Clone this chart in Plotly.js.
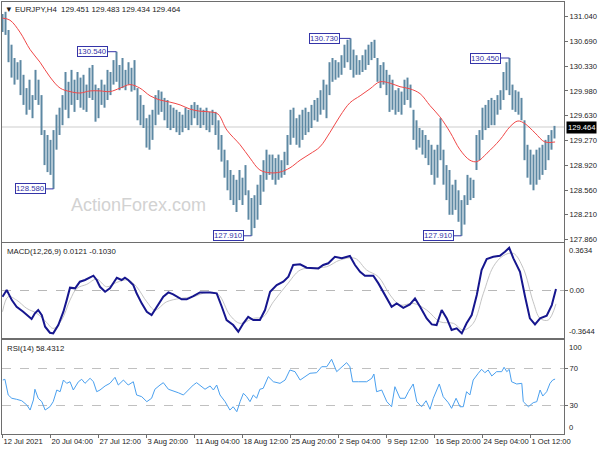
<!DOCTYPE html>
<html>
<head>
<meta charset="utf-8">
<script src="https://cdn.plot.ly/plotly-3.0.1.min.js"></script>
<style>html,body{margin:0;padding:0;background:#fff;}#chart{width:600px;height:450px;}</style>
</head>
<body>
<div id="chart"></div>
<script>
// ---- Price bars (EURJPY H4), one entry per drawn bar ----
const highs = [131.08,131.11,130.85,130.64,130.45,130.39,130.42,130.21,130.02,130.14,
129.92,130.28,130.14,129.92,129.42,129.35,129.28,129.42,129.64,129.74,
129.92,130.25,130.11,130.28,130.14,130.25,130.17,130.21,130.07,130.31,
130.35,130.07,130.02,130.14,130.07,130.28,130.25,130.42,130.54,130.35,
130.45,130.28,130.39,130.31,130.42,130.02,129.92,129.78,129.59,129.64,
129.71,129.92,129.99,129.97,129.88,129.85,129.78,129.74,129.71,129.68,
129.64,129.74,129.71,129.78,129.82,129.78,129.74,129.71,129.74,129.68,
129.71,129.68,129.56,129.35,129.14,128.99,128.85,128.78,128.71,128.85,
128.74,128.92,128.56,128.45,128.49,128.64,128.78,128.99,129.14,129.07,
129.07,129.02,129.07,128.99,129.11,129.35,129.71,129.74,129.59,129.64,
129.71,129.74,129.68,129.78,129.85,129.88,129.99,130.14,130.07,130.39,
130.45,130.42,130.39,130.49,130.64,130.71,130.73,130.57,130.49,130.42,
130.49,130.57,130.64,130.68,130.71,130.45,130.35,130.39,130.28,130.21,
130.14,129.99,130.02,129.97,130.14,130.17,130.07,129.71,129.56,129.45,
129.42,129.35,129.28,129.21,129.14,129.21,129.59,129.14,128.92,128.85,
128.64,128.71,128.56,128.42,128.49,128.78,128.74,128.71,129.35,129.42,
129.74,129.78,129.85,129.88,129.85,129.92,129.99,130.25,130.39,130.45,
130.07,129.99,129.97,129.88,129.56,129.21,129.14,129.07,129.14,129.17,
129.21,129.28,129.35,129.42,129.48];
const lows = [130.82,130.78,130.39,130.17,130.07,130.14,129.92,129.78,129.64,129.71,
129.59,129.85,129.78,129.35,128.92,128.82,128.78,128.58,129.14,129.35,
129.49,129.71,129.59,129.78,129.68,129.85,129.74,129.71,129.68,129.88,
129.85,129.54,129.59,129.78,129.74,129.85,129.92,130.07,130.11,129.99,
130.02,129.99,130.07,129.97,129.99,129.56,129.49,129.45,129.17,129.14,
129.28,129.49,129.64,129.68,129.56,129.45,129.42,129.45,129.39,129.35,
129.39,129.45,129.42,129.49,129.59,129.49,129.45,129.49,129.42,129.39,
129.49,129.35,129.14,128.97,128.74,128.56,128.42,128.35,128.25,128.42,
128.35,128.49,128.14,127.91,128.02,128.14,128.35,128.54,128.71,128.78,
128.71,128.64,128.71,128.74,128.78,128.92,129.21,129.31,129.21,129.17,
129.28,129.35,129.39,129.45,129.56,129.54,129.64,129.71,129.59,129.92,
130.11,130.14,130.17,130.21,130.31,130.39,130.28,130.17,130.21,130.21,
130.25,130.28,130.35,130.42,130.45,130.11,130.02,130.07,129.92,129.68,
129.71,129.64,129.68,129.64,129.78,129.85,129.74,129.28,129.14,129.17,
129.07,129.02,128.92,128.78,128.64,128.74,128.99,128.64,128.42,128.21,
128.21,128.28,128.11,127.91,128.07,128.35,128.42,128.45,128.85,128.99,
129.28,129.42,129.45,129.49,129.49,129.64,129.71,129.85,129.99,129.92,
129.71,129.68,129.64,129.56,128.99,128.74,128.64,128.56,128.64,128.71,
128.78,128.85,128.99,129.14,129.30];
const lastClose = 129.464;

// ---- Moving average (red) ----
const maX = [0,2.5,5.8,9.2,12.5,15.8,19.2,22.5,25.8,29.2,32.5,35.8,39.2,42.5,45.8,49.2,52.5,55.8,59.2,62.5,
65.8,69.2,71.8,74.8,79.2,82.5,85.8,89.2,92.5,95.8,99.2,102.5,105.8,109.2,112.5,115.8,119.2,122.5,125.8,129.2,
132.5,135.8,139.2,142.5,145.8,149.2,152.5,155.8,158.2,161.5,165.8,169.2,171.8,174.2,177.5,180.8,184.2];
const maV = [131.02,130.99,130.82,130.57,130.39,130.18,130.02,129.97,129.95,129.98,129.98,129.97,130.02,130.07,130.02,129.91,129.85,129.82,129.78,129.72,
129.69,129.68,129.65,129.42,129.21,129.02,128.85,128.81,128.82,128.88,128.99,129.08,129.18,129.39,129.62,129.81,129.91,130.01,130.11,130.09,
130.04,130.01,129.94,129.77,129.61,129.39,129.14,128.99,128.97,129.09,129.28,129.47,129.55,129.51,129.38,129.25,129.25];

// ---- Extreme labels ----
const markIdx = [17, 38, 83, 116, 153, 169];
const markKind = ['low','high','low','high','low','high'];
const markShift = [-23, -24, -23, -26, -23, -24];

// ---- MACD(12,26,9) ----
const macdX = [0,1.4,3.1,4.7,6.9,9.7,10.8,11.9,13.1,14.2,15.8,16.9,18.6,20.3,21.4,22.5,24.2,25.8,27.5,28.6,
30.3,31.4,32.5,34.2,35.8,38.1,39.7,40.8,41.9,43.6,44.7,46.4,48.1,49.7,51.4,53.6,55.3,56.9,59.7,61.4,
63.6,65.8,69.2,71.4,73.1,74.7,76.9,78.6,80.3,81.9,83.6,85.8,87.5,89.2,91.4,93.6,95.3,96.9,99.2,101.4,
105.3,106.9,108.6,110.8,113.1,115.8,117.5,119.2,120.8,123.6,125.3,127.5,129.7,131.4,133.6,135.8,137.5,139.2,141.4,143.1,
144.7,146.4,148.1,149.7,151.4,153.1,154.7,156.4,158.1,159.7,161.4,163.6,165.8,167.5,168.9,170.3,172.5,174.2,175.8,177.5,
179.2,181.4,183.1,184.5];
const macdV = [-0.048,0.003,-0.074,-0.125,-0.163,-0.219,-0.175,-0.150,-0.189,-0.278,-0.324,-0.329,-0.265,-0.163,-0.074,0.021,0.016,0.067,0.080,0.093,
0.113,0.080,0.028,-0.010,0.016,0.097,0.080,0.097,0.080,0.041,-0.022,-0.099,-0.163,-0.189,-0.125,-0.048,-0.015,-0.030,-0.068,-0.068,
-0.043,-0.015,-0.015,-0.022,-0.125,-0.227,-0.265,-0.316,-0.252,-0.202,-0.227,-0.227,-0.150,-0.010,0.041,0.067,0.105,0.195,0.200,0.174,
0.169,0.195,0.208,0.258,0.246,0.264,0.195,0.143,0.113,0.113,0.054,-0.035,-0.125,-0.099,-0.133,-0.107,-0.061,-0.125,-0.214,-0.260,
-0.265,-0.150,-0.214,-0.303,-0.290,-0.329,-0.252,-0.189,-0.035,0.156,0.241,0.258,0.266,0.297,0.327,0.246,0.143,-0.048,-0.214,-0.260,
-0.214,-0.194,-0.112,0.012];
const sigX = [0,1.9,4.7,8.1,11.4,14.7,16.9,19.7,22.5,24.8,28.1,31.4,34.7,38.1,41.9,44.7,48.1,50.8,54.7,59.2,
63.6,68.1,71.9,75.8,79.2,83.6,86.9,90.3,94.7,99.2,103.6,108.1,112.5,117.5,121.4,125.3,129.2,132.5,136.9,141.4,
145.8,150.3,153.6,156.9,160.3,163.6,166.9,170.3,173.6,176.9,179.2,181.9,184.5];
const sigV = [-0.163,-0.048,-0.074,-0.138,-0.175,-0.245,-0.291,-0.227,-0.074,0.016,0.047,0.087,0.028,0.062,0.080,0.028,-0.087,-0.150,-0.087,-0.061,
-0.048,-0.015,-0.030,-0.189,-0.252,-0.214,-0.202,-0.087,0.041,0.156,0.174,0.182,0.233,0.246,0.156,0.105,-0.035,-0.112,-0.099,-0.150,
-0.240,-0.252,-0.303,-0.252,-0.022,0.182,0.266,0.284,0.169,-0.087,-0.214,-0.227,-0.103];
const macdMax = 0.3634, macdMin = -0.3644;

// ---- RSI(14) ----
const rsiX = [0.1,0.8,1.9,3.1,4.7,6.4,8.1,9.2,10.3,10.8,11.9,13.1,14.2,15.8,16.9,17.5,18.1,19.2,20.3,21.4,
22.5,23.6,25.3,26.4,27.5,29.2,30.3,31.4,32.5,34.2,35.8,37.5,38.6,40.3,41.9,43.6,44.7,46.4,48.1,49.7,
50.8,52.5,53.6,55.3,56.9,58.6,60.3,61.9,63.6,64.7,65.8,67.5,69.2,70.3,71.4,72.5,74.2,75.8,76.9,78.1,
79.2,80.3,81.4,82.5,83.6,84.7,85.8,86.9,88.6,90.3,92.5,94.2,95.8,97.5,99.2,100.8,102.5,104.7,106.4,108.1,
109.7,111.4,113.1,114.7,115.8,116.7,118.6,121.4,123.1,123.8,124.7,126.4,128.1,129.7,130.8,132.5,134.2,135.3,136.9,138.1,
139.7,141.2,142.5,143.6,145.6,146.9,148.6,149.7,151.2,152.5,153.6,154.7,155.8,156.9,158.6,159.7,160.8,161.9,163.1,164.7,
166.4,167.2,168.1,168.9,169.7,171.4,173.1,173.6,175.3,176.9,178.1,179.2,180.1,181.4,182.5,183.4,184.2];
const rsiV = [57.4,58.2,41.5,38.0,36.9,35.4,30.9,25.5,36.2,47.6,38.0,34.4,25.5,29.0,34.4,41.5,46.8,45.0,57.4,53.9,
55.6,46.8,55.6,58.2,53.9,59.3,55.6,45.0,46.8,51.1,53.9,60.3,52.1,57.4,52.1,55.6,41.5,39.7,34.4,38.0,
47.6,52.1,54.6,47.6,46.1,43.9,41.5,46.8,52.1,54.6,52.1,47.6,51.1,46.8,52.1,41.5,34.4,25.5,29.0,23.7,
34.4,43.3,39.7,34.4,41.5,38.0,47.6,48.6,61.0,55.6,53.9,57.4,68.1,66.3,57.4,61.0,64.6,65.2,71.6,71.6,
79.5,66.3,71.6,75.9,71.6,55.6,55.6,55.6,59.3,63.8,45.0,46.8,34.4,29.0,50.3,38.0,38.0,45.0,53.2,34.4,
29.0,35.4,26.3,38.0,53.2,39.7,33.3,27.3,38.0,29.0,29.0,45.0,41.5,57.4,64.6,68.8,65.2,68.1,61.7,66.3,
66.3,71.0,66.3,68.8,55.6,53.2,53.9,34.4,29.0,33.3,34.4,46.8,40.4,45.0,53.9,57.4,58.4];

// ---- Axis labels ----
const priceTicks = [131.040,130.690,130.330,129.980,129.630,129.270,128.920,128.560,128.210,127.860];
const timeTickIdx = [0,16,32,48,64,80,96,112,128,144,160,176];
const timeTickText = ['12 Jul 2021','20 Jul 04:00','27 Jul 12:00','3 Aug 20:00','11 Aug 04:00','18 Aug 12:00',
  '25 Aug 20:00','2 Sep 04:00','9 Sep 12:00','16 Sep 20:00','24 Sep 04:00','1 Oct 12:00'];
const headerText = '\u25BC EURJPY,H4\u00a0\u00a0129.451 129.483 129.434 129.464';
const macdText = 'MACD(12,26,9) 0.0121 -0.1030';
const rsiText = 'RSI(14) 58.4312';

// ---- Build ----
const barX = [], barY = [];
highs.forEach((h, i) => { barX.push(i, i, null); barY.push(lows[i], h, null); });

const frame = '#6e6e6e';
const fontFam = 'Liberation Sans, Arial, sans-serif';
const markBlue = '#3434a8';

const traces = [
  {type:'scatter', mode:'lines', x:barX, y:barY, xaxis:'x', yaxis:'y', line:{color:'#5d88a3', width:2}, hoverinfo:'skip'},
  {type:'scatter', mode:'lines', x:maX, y:maV, xaxis:'x', yaxis:'y', line:{color:'#f04848', width:1, shape:'spline'}, hoverinfo:'skip'},
  {type:'scatter', mode:'lines', x:sigX, y:sigV, xaxis:'x2', yaxis:'y2', line:{color:'#c4c4c4', width:1, shape:'spline'}, hoverinfo:'skip'},
  {type:'scatter', mode:'lines', x:macdX, y:macdV, xaxis:'x2', yaxis:'y2', line:{color:'#16168e', width:2}, hoverinfo:'skip'},
  {type:'scatter', mode:'lines', x:rsiX, y:rsiV, xaxis:'x3', yaxis:'y3', line:{color:'#4aa0ef', width:1}, hoverinfo:'skip'}
];

const annotations = [
  {xref:'paper', yref:'paper', x:0.002, y:1, xanchor:'left', yanchor:'top', yshift:-1, text:headerText, showarrow:false, font:{size:7.8, color:'#222'}},
  {xref:'paper', yref:'paper', x:0.005, y:0.4421, xanchor:'left', yanchor:'top', yshift:-2, text:macdText, showarrow:false, font:{size:7.8, color:'#222'}},
  {xref:'paper', yref:'paper', x:0.005, y:0.2176, xanchor:'left', yanchor:'top', yshift:-2, text:rsiText, showarrow:false, font:{size:7.8, color:'#222'}},
  {xref:'paper', yref:'paper', x:0.242, y:0.530, xanchor:'center', yanchor:'middle', text:'ActionForex.com', showarrow:false, font:{size:18, color:'#d2d2d2'}},
  {xref:'paper', yref:'y', x:1, xanchor:'left', xshift:2, y:lastClose, text:lastClose.toFixed(3), showarrow:false, bgcolor:'#000', borderpad:1, font:{size:7.6, color:'#fff'}},
  {xref:'paper', yref:'y2', x:1, xanchor:'left', xshift:3, y:macdMax, yanchor:'top', yshift:-1, text:macdMax.toFixed(4), showarrow:false, font:{size:7.6, color:'#222'}},
  {xref:'paper', yref:'y2', x:1, xanchor:'left', xshift:3, y:macdMin, yanchor:'bottom', text:macdMin.toFixed(4), showarrow:false, font:{size:7.6, color:'#222'}},
  {xref:'paper', yref:'y3', x:1, xanchor:'left', xshift:3, y:100, yanchor:'top', yshift:-1, text:'100', showarrow:false, font:{size:7.6, color:'#222'}},
  {xref:'paper', yref:'y3', x:1, xanchor:'left', xshift:3, y:0, yanchor:'bottom', text:'0', showarrow:false, font:{size:7.6, color:'#222'}}
];
markIdx.forEach((idx, k) => {
  const v = markKind[k] === 'low' ? lows[idx] : highs[idx];
  annotations.push({xref:'x', yref:'y', x:idx, y:v, text:v.toFixed(3), showarrow:true, arrowhead:0, arrowwidth:1,
    arrowcolor:markBlue, ax:markShift[k], ay:0, standoff:0, bordercolor:markBlue, borderwidth:1, borderpad:0,
    bgcolor:'#fff', font:{size:7.8, color:markBlue}});
});

const xBase = {range:[-0.17, 187.17], showgrid:false, zeroline:false, showline:true, mirror:true, linecolor:frame, linewidth:1, fixedrange:true};
const layout = {
  width:600, height:450,
  margin:{l:2, r:36, t:2, b:16},
  paper_bgcolor:'#fff', plot_bgcolor:'#fff',
  showlegend:false,
  font:{family:fontFam, size:7.6, color:'#222'},
  xaxis: Object.assign({}, xBase, {anchor:'y', showticklabels:false, ticks:''}),
  xaxis2: Object.assign({}, xBase, {anchor:'y2', matches:'x', showticklabels:false, ticks:''}),
  xaxis3: Object.assign({}, xBase, {anchor:'y3', matches:'x', tickmode:'array', tickvals:timeTickIdx, ticktext:timeTickText,
    ticks:'outside', ticklen:3, tickcolor:frame, tickangle:0, automargin:false, ticklabelposition:'outside right',
    tickfont:{size:7.6, color:'#222'}}),
  yaxis: {domain:[0.4444, 1], anchor:'x', side:'right', range:[127.821, 131.25], tickmode:'array', tickvals:priceTicks,
    ticktext:priceTicks.map(v => v.toFixed(3)), ticks:'outside', ticklen:3, tickcolor:frame, showgrid:false, zeroline:false,
    showline:true, mirror:true, linecolor:frame, fixedrange:true, automargin:false},
  yaxis2: {domain:[0.2222, 0.4421], anchor:'x2', side:'right', range:[macdMin, macdMax], tickmode:'array', tickvals:[0],
    ticktext:['0.00'], ticks:'outside', ticklen:3, tickcolor:frame, showgrid:true, gridcolor:'#b8b8b8', griddash:'dash',
    zeroline:false, showline:true, mirror:true, linecolor:frame, fixedrange:true, automargin:false},
  yaxis3: {domain:[0, 0.2176], anchor:'x3', side:'right', range:[0, 100], tickmode:'array', tickvals:[70, 30],
    ticktext:['70','30'], ticks:'outside', ticklen:3, tickcolor:frame, showgrid:true, gridcolor:'#c0c0c0', griddash:'dash',
    zeroline:false, showline:true, mirror:true, linecolor:frame, fixedrange:true, automargin:false},
  shapes: [
    {type:'line', xref:'paper', x0:0, x1:1, yref:'y', y0:lastClose, y1:lastClose, line:{color:'#cdcdcd', width:1}, layer:'below'}
  ],
  annotations: annotations
};

Plotly.newPlot('chart', traces, layout, {displayModeBar:false, staticPlot:true});
</script>
</body>
</html>
